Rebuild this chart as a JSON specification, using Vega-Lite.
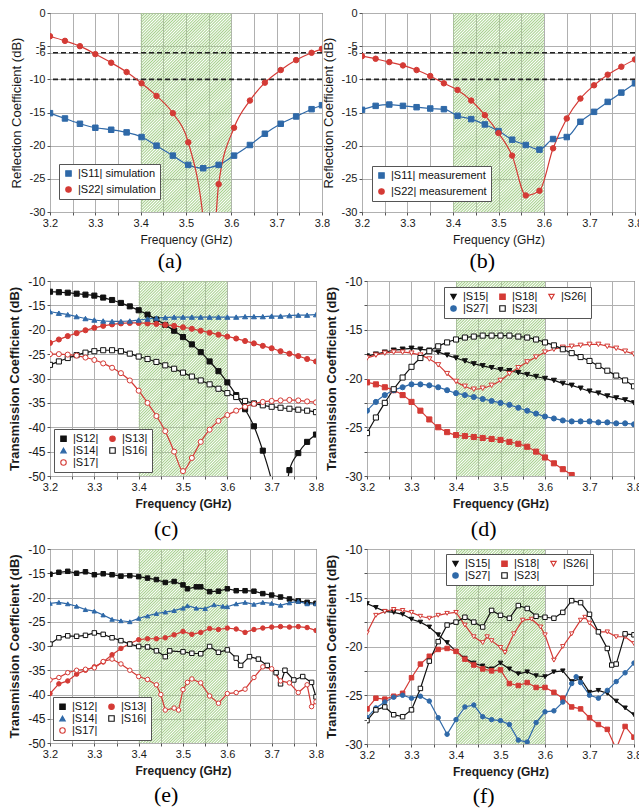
{
"$schema":"https://vega.github.io/schema/vega-lite/v6.json",
"background":"white",
"padding":{"left":8,"top":6,"right":0,"bottom":0},
"spacing":1,
"resolve":{"scale":{"color":"independent","shape":"independent","fill":"independent","stroke":"independent"}},
"config":{
 "view":{"stroke":"#3a3a3a","strokeWidth":1},
 "axis":{"labelFont":"Liberation Sans","titleFont":"Liberation Sans","labelFontSize":11,"titleFontSize":12,"titleFontWeight":"normal","labelColor":"#1a1a1a","titleColor":"#1a1a1a","domain":false,"grid":true,"gridColor":"#b0b0b0","gridWidth":1,"gridOpacity":1,"ticks":true,"tickColor":"#555","tickSize":3,"labelPadding":2,"titlePadding":6,"labelOverlap":false,"labelFlush":false},
 "legend":{"labelFont":"Liberation Sans","labelFontSize":11,"labelColor":"#111","strokeColor":"#555","fillColor":"white","padding":4,"rowPadding":0,"columnPadding":8,"symbolStrokeWidth":1.1,"symbolSize":30,"zindex":2},
 "title":{"font":"Liberation Serif","fontSize":22,"fontWeight":"normal","color":"#000"},
 "rect":{"fill":{"gradient":"linear","x1":0,"y1":0,"x2":0.545,"y2":1.206,"stops":[
{"offset":0,"color":"rgba(166,208,140,0)"},{"offset":0.005,"color":"#a6d08c"},{"offset":0.01,"color":"rgba(166,208,140,0)"},{"offset":0.015,"color":"#a6d08c"},{"offset":0.02,"color":"rgba(166,208,140,0)"},{"offset":0.025,"color":"#a6d08c"},{"offset":0.03,"color":"rgba(166,208,140,0)"},{"offset":0.035,"color":"#a6d08c"},{"offset":0.04,"color":"rgba(166,208,140,0)"},{"offset":0.045,"color":"#a6d08c"},
{"offset":0.05,"color":"rgba(166,208,140,0)"},{"offset":0.055,"color":"#a6d08c"},{"offset":0.06,"color":"rgba(166,208,140,0)"},{"offset":0.065,"color":"#a6d08c"},{"offset":0.07,"color":"rgba(166,208,140,0)"},{"offset":0.075,"color":"#a6d08c"},{"offset":0.08,"color":"rgba(166,208,140,0)"},{"offset":0.085,"color":"#a6d08c"},{"offset":0.09,"color":"rgba(166,208,140,0)"},{"offset":0.095,"color":"#a6d08c"},
{"offset":0.1,"color":"rgba(166,208,140,0)"},{"offset":0.105,"color":"#a6d08c"},{"offset":0.11,"color":"rgba(166,208,140,0)"},{"offset":0.115,"color":"#a6d08c"},{"offset":0.12,"color":"rgba(166,208,140,0)"},{"offset":0.125,"color":"#a6d08c"},{"offset":0.13,"color":"rgba(166,208,140,0)"},{"offset":0.135,"color":"#a6d08c"},{"offset":0.14,"color":"rgba(166,208,140,0)"},{"offset":0.145,"color":"#a6d08c"},
{"offset":0.15,"color":"rgba(166,208,140,0)"},{"offset":0.155,"color":"#a6d08c"},{"offset":0.16,"color":"rgba(166,208,140,0)"},{"offset":0.165,"color":"#a6d08c"},{"offset":0.17,"color":"rgba(166,208,140,0)"},{"offset":0.175,"color":"#a6d08c"},{"offset":0.18,"color":"rgba(166,208,140,0)"},{"offset":0.185,"color":"#a6d08c"},{"offset":0.19,"color":"rgba(166,208,140,0)"},{"offset":0.195,"color":"#a6d08c"},
{"offset":0.2,"color":"rgba(166,208,140,0)"},{"offset":0.205,"color":"#a6d08c"},{"offset":0.21,"color":"rgba(166,208,140,0)"},{"offset":0.215,"color":"#a6d08c"},{"offset":0.22,"color":"rgba(166,208,140,0)"},{"offset":0.225,"color":"#a6d08c"},{"offset":0.23,"color":"rgba(166,208,140,0)"},{"offset":0.235,"color":"#a6d08c"},{"offset":0.24,"color":"rgba(166,208,140,0)"},{"offset":0.245,"color":"#a6d08c"},
{"offset":0.25,"color":"rgba(166,208,140,0)"},{"offset":0.255,"color":"#a6d08c"},{"offset":0.26,"color":"rgba(166,208,140,0)"},{"offset":0.265,"color":"#a6d08c"},{"offset":0.27,"color":"rgba(166,208,140,0)"},{"offset":0.275,"color":"#a6d08c"},{"offset":0.28,"color":"rgba(166,208,140,0)"},{"offset":0.285,"color":"#a6d08c"},{"offset":0.29,"color":"rgba(166,208,140,0)"},{"offset":0.295,"color":"#a6d08c"},
{"offset":0.3,"color":"rgba(166,208,140,0)"},{"offset":0.305,"color":"#a6d08c"},{"offset":0.31,"color":"rgba(166,208,140,0)"},{"offset":0.315,"color":"#a6d08c"},{"offset":0.32,"color":"rgba(166,208,140,0)"},{"offset":0.325,"color":"#a6d08c"},{"offset":0.33,"color":"rgba(166,208,140,0)"},{"offset":0.335,"color":"#a6d08c"},{"offset":0.34,"color":"rgba(166,208,140,0)"},{"offset":0.345,"color":"#a6d08c"},
{"offset":0.35,"color":"rgba(166,208,140,0)"},{"offset":0.355,"color":"#a6d08c"},{"offset":0.36,"color":"rgba(166,208,140,0)"},{"offset":0.365,"color":"#a6d08c"},{"offset":0.37,"color":"rgba(166,208,140,0)"},{"offset":0.375,"color":"#a6d08c"},{"offset":0.38,"color":"rgba(166,208,140,0)"},{"offset":0.385,"color":"#a6d08c"},{"offset":0.39,"color":"rgba(166,208,140,0)"},{"offset":0.395,"color":"#a6d08c"},
{"offset":0.4,"color":"rgba(166,208,140,0)"},{"offset":0.405,"color":"#a6d08c"},{"offset":0.41,"color":"rgba(166,208,140,0)"},{"offset":0.415,"color":"#a6d08c"},{"offset":0.42,"color":"rgba(166,208,140,0)"},{"offset":0.425,"color":"#a6d08c"},{"offset":0.43,"color":"rgba(166,208,140,0)"},{"offset":0.435,"color":"#a6d08c"},{"offset":0.44,"color":"rgba(166,208,140,0)"},{"offset":0.445,"color":"#a6d08c"},
{"offset":0.45,"color":"rgba(166,208,140,0)"},{"offset":0.455,"color":"#a6d08c"},{"offset":0.46,"color":"rgba(166,208,140,0)"},{"offset":0.465,"color":"#a6d08c"},{"offset":0.47,"color":"rgba(166,208,140,0)"},{"offset":0.475,"color":"#a6d08c"},{"offset":0.48,"color":"rgba(166,208,140,0)"},{"offset":0.485,"color":"#a6d08c"},{"offset":0.49,"color":"rgba(166,208,140,0)"},{"offset":0.495,"color":"#a6d08c"},
{"offset":0.5,"color":"rgba(166,208,140,0)"},{"offset":0.505,"color":"#a6d08c"},{"offset":0.51,"color":"rgba(166,208,140,0)"},{"offset":0.515,"color":"#a6d08c"},{"offset":0.52,"color":"rgba(166,208,140,0)"},{"offset":0.525,"color":"#a6d08c"},{"offset":0.53,"color":"rgba(166,208,140,0)"},{"offset":0.535,"color":"#a6d08c"},{"offset":0.54,"color":"rgba(166,208,140,0)"},{"offset":0.545,"color":"#a6d08c"},
{"offset":0.55,"color":"rgba(166,208,140,0)"},{"offset":0.555,"color":"#a6d08c"},{"offset":0.56,"color":"rgba(166,208,140,0)"},{"offset":0.565,"color":"#a6d08c"},{"offset":0.57,"color":"rgba(166,208,140,0)"},{"offset":0.575,"color":"#a6d08c"},{"offset":0.58,"color":"rgba(166,208,140,0)"},{"offset":0.585,"color":"#a6d08c"},{"offset":0.59,"color":"rgba(166,208,140,0)"},{"offset":0.595,"color":"#a6d08c"},
{"offset":0.6,"color":"rgba(166,208,140,0)"},{"offset":0.605,"color":"#a6d08c"},{"offset":0.61,"color":"rgba(166,208,140,0)"},{"offset":0.615,"color":"#a6d08c"},{"offset":0.62,"color":"rgba(166,208,140,0)"},{"offset":0.625,"color":"#a6d08c"},{"offset":0.63,"color":"rgba(166,208,140,0)"},{"offset":0.635,"color":"#a6d08c"},{"offset":0.64,"color":"rgba(166,208,140,0)"},{"offset":0.645,"color":"#a6d08c"},
{"offset":0.65,"color":"rgba(166,208,140,0)"},{"offset":0.655,"color":"#a6d08c"},{"offset":0.66,"color":"rgba(166,208,140,0)"},{"offset":0.665,"color":"#a6d08c"},{"offset":0.67,"color":"rgba(166,208,140,0)"},{"offset":0.675,"color":"#a6d08c"},{"offset":0.68,"color":"rgba(166,208,140,0)"},{"offset":0.685,"color":"#a6d08c"},{"offset":0.69,"color":"rgba(166,208,140,0)"},{"offset":0.695,"color":"#a6d08c"},
{"offset":0.7,"color":"rgba(166,208,140,0)"},{"offset":0.705,"color":"#a6d08c"},{"offset":0.71,"color":"rgba(166,208,140,0)"},{"offset":0.715,"color":"#a6d08c"},{"offset":0.72,"color":"rgba(166,208,140,0)"},{"offset":0.725,"color":"#a6d08c"},{"offset":0.73,"color":"rgba(166,208,140,0)"},{"offset":0.735,"color":"#a6d08c"},{"offset":0.74,"color":"rgba(166,208,140,0)"},{"offset":0.745,"color":"#a6d08c"},
{"offset":0.75,"color":"rgba(166,208,140,0)"},{"offset":0.755,"color":"#a6d08c"},{"offset":0.76,"color":"rgba(166,208,140,0)"},{"offset":0.765,"color":"#a6d08c"},{"offset":0.77,"color":"rgba(166,208,140,0)"},{"offset":0.775,"color":"#a6d08c"},{"offset":0.78,"color":"rgba(166,208,140,0)"},{"offset":0.785,"color":"#a6d08c"},{"offset":0.79,"color":"rgba(166,208,140,0)"},{"offset":0.795,"color":"#a6d08c"},
{"offset":0.8,"color":"rgba(166,208,140,0)"},{"offset":0.805,"color":"#a6d08c"},{"offset":0.81,"color":"rgba(166,208,140,0)"},{"offset":0.815,"color":"#a6d08c"},{"offset":0.82,"color":"rgba(166,208,140,0)"},{"offset":0.825,"color":"#a6d08c"},{"offset":0.83,"color":"rgba(166,208,140,0)"},{"offset":0.835,"color":"#a6d08c"},{"offset":0.84,"color":"rgba(166,208,140,0)"},{"offset":0.845,"color":"#a6d08c"},
{"offset":0.85,"color":"rgba(166,208,140,0)"},{"offset":0.855,"color":"#a6d08c"},{"offset":0.86,"color":"rgba(166,208,140,0)"},{"offset":0.865,"color":"#a6d08c"},{"offset":0.87,"color":"rgba(166,208,140,0)"},{"offset":0.875,"color":"#a6d08c"},{"offset":0.88,"color":"rgba(166,208,140,0)"},{"offset":0.885,"color":"#a6d08c"},{"offset":0.89,"color":"rgba(166,208,140,0)"},{"offset":0.895,"color":"#a6d08c"},
{"offset":0.9,"color":"rgba(166,208,140,0)"},{"offset":0.905,"color":"#a6d08c"},{"offset":0.91,"color":"rgba(166,208,140,0)"},{"offset":0.915,"color":"#a6d08c"},{"offset":0.92,"color":"rgba(166,208,140,0)"},{"offset":0.925,"color":"#a6d08c"},{"offset":0.93,"color":"rgba(166,208,140,0)"},{"offset":0.935,"color":"#a6d08c"},{"offset":0.94,"color":"rgba(166,208,140,0)"},{"offset":0.945,"color":"#a6d08c"},
{"offset":0.95,"color":"rgba(166,208,140,0)"},{"offset":0.955,"color":"#a6d08c"},{"offset":0.96,"color":"rgba(166,208,140,0)"},{"offset":0.965,"color":"#a6d08c"},{"offset":0.97,"color":"rgba(166,208,140,0)"},{"offset":0.975,"color":"#a6d08c"},{"offset":0.98,"color":"rgba(166,208,140,0)"},{"offset":0.985,"color":"#a6d08c"},{"offset":0.99,"color":"rgba(166,208,140,0)"},{"offset":0.995,"color":"#a6d08c"},
{"offset":1,"color":"rgba(166,208,140,0)"}]}}
},
"datasets":{
"a":[
{"f":3.2,"v":-15.1,"s":"|S11| simulation"},{"f":3.233,"v":-15.9,"s":"|S11| simulation"},{"f":3.266,"v":-16.7,"s":"|S11| simulation"},{"f":3.3,"v":-17.3,"s":"|S11| simulation"},{"f":3.335,"v":-17.6,"s":"|S11| simulation"},{"f":3.369,"v":-18.0,"s":"|S11| simulation"},{"f":3.402,"v":-18.7,"s":"|S11| simulation"},{"f":3.435,"v":-20.0,"s":"|S11| simulation"},{"f":3.471,"v":-21.5,"s":"|S11| simulation"},{"f":3.505,"v":-22.9,"s":"|S11| simulation"},{"f":3.538,"v":-23.4,"s":"|S11| simulation"},{"f":3.572,"v":-22.9,"s":"|S11| simulation"},{"f":3.606,"v":-21.5,"s":"|S11| simulation"},{"f":3.641,"v":-19.9,"s":"|S11| simulation"},{"f":3.674,"v":-18.2,"s":"|S11| simulation"},{"f":3.709,"v":-16.7,"s":"|S11| simulation"},{"f":3.743,"v":-15.6,"s":"|S11| simulation"},{"f":3.777,"v":-14.5,"s":"|S11| simulation"},{"f":3.8,"v":-13.9,"s":"|S11| simulation"},
{"f":3.2,"v":-3.5,"s":"|S22| simulation"},{"f":3.233,"v":-4.2,"s":"|S22| simulation"},{"f":3.266,"v":-5.0,"s":"|S22| simulation"},{"f":3.3,"v":-6.2,"s":"|S22| simulation"},{"f":3.335,"v":-7.5,"s":"|S22| simulation"},{"f":3.369,"v":-8.9,"s":"|S22| simulation"},{"f":3.402,"v":-10.6,"s":"|S22| simulation"},{"f":3.435,"v":-12.5,"s":"|S22| simulation"},{"f":3.471,"v":-15.1,"s":"|S22| simulation"},{"f":3.505,"v":-19.5,"s":"|S22| simulation"},{"f":3.538,"v":-31,"s":"|S22| simulation"},{"f":3.553,"v":-42,"s":"|S22| simulation"},{"f":3.572,"v":-25.8,"s":"|S22| simulation"},{"f":3.606,"v":-17.3,"s":"|S22| simulation"},{"f":3.641,"v":-13.2,"s":"|S22| simulation"},{"f":3.674,"v":-10.5,"s":"|S22| simulation"},{"f":3.709,"v":-8.6,"s":"|S22| simulation"},{"f":3.743,"v":-7.1,"s":"|S22| simulation"},{"f":3.777,"v":-6.0,"s":"|S22| simulation"},{"f":3.8,"v":-5.4,"s":"|S22| simulation"}
],
"b":[
{"f":3.2,"v":-14.6,"s":"|S11| measurement"},{"f":3.23,"v":-14.0,"s":"|S11| measurement"},{"f":3.26,"v":-13.8,"s":"|S11| measurement"},{"f":3.29,"v":-14.0,"s":"|S11| measurement"},{"f":3.32,"v":-14.2,"s":"|S11| measurement"},{"f":3.35,"v":-14.4,"s":"|S11| measurement"},{"f":3.38,"v":-14.5,"s":"|S11| measurement"},{"f":3.41,"v":-15.5,"s":"|S11| measurement"},{"f":3.44,"v":-16.0,"s":"|S11| measurement"},{"f":3.47,"v":-16.8,"s":"|S11| measurement"},{"f":3.5,"v":-17.8,"s":"|S11| measurement"},{"f":3.53,"v":-19.1,"s":"|S11| measurement"},{"f":3.56,"v":-19.9,"s":"|S11| measurement"},{"f":3.59,"v":-20.6,"s":"|S11| measurement"},{"f":3.62,"v":-19.0,"s":"|S11| measurement"},{"f":3.65,"v":-18.7,"s":"|S11| measurement"},{"f":3.68,"v":-16.4,"s":"|S11| measurement"},{"f":3.71,"v":-14.9,"s":"|S11| measurement"},{"f":3.74,"v":-13.4,"s":"|S11| measurement"},{"f":3.77,"v":-12.0,"s":"|S11| measurement"},{"f":3.8,"v":-10.6,"s":"|S11| measurement"},
{"f":3.2,"v":-6.5,"s":"|S22| measurement"},{"f":3.23,"v":-6.9,"s":"|S22| measurement"},{"f":3.26,"v":-7.4,"s":"|S22| measurement"},{"f":3.29,"v":-7.9,"s":"|S22| measurement"},{"f":3.32,"v":-8.6,"s":"|S22| measurement"},{"f":3.35,"v":-9.5,"s":"|S22| measurement"},{"f":3.38,"v":-10.6,"s":"|S22| measurement"},{"f":3.41,"v":-11.6,"s":"|S22| measurement"},{"f":3.44,"v":-13.2,"s":"|S22| measurement"},{"f":3.47,"v":-15.4,"s":"|S22| measurement"},{"f":3.5,"v":-18.1,"s":"|S22| measurement"},{"f":3.53,"v":-21.5,"s":"|S22| measurement"},{"f":3.56,"v":-27.5,"s":"|S22| measurement"},{"f":3.59,"v":-26.8,"s":"|S22| measurement"},{"f":3.62,"v":-20.4,"s":"|S22| measurement"},{"f":3.65,"v":-15.9,"s":"|S22| measurement"},{"f":3.68,"v":-12.9,"s":"|S22| measurement"},{"f":3.71,"v":-10.9,"s":"|S22| measurement"},{"f":3.74,"v":-9.3,"s":"|S22| measurement"},{"f":3.77,"v":-8.1,"s":"|S22| measurement"},{"f":3.8,"v":-7.0,"s":"|S22| measurement"}
],
"c":[
{"f":3.2,"v":-12.2,"s":"|S12|"},{"f":3.22,"v":-12.3,"s":"|S12|"},{"f":3.24,"v":-12.4,"s":"|S12|"},{"f":3.26,"v":-12.6,"s":"|S12|"},{"f":3.28,"v":-12.8,"s":"|S12|"},{"f":3.3,"v":-13.0,"s":"|S12|"},{"f":3.32,"v":-13.4,"s":"|S12|"},{"f":3.34,"v":-13.9,"s":"|S12|"},{"f":3.36,"v":-14.5,"s":"|S12|"},{"f":3.38,"v":-15.2,"s":"|S12|"},{"f":3.4,"v":-16.0,"s":"|S12|"},{"f":3.42,"v":-16.9,"s":"|S12|"},{"f":3.44,"v":-17.9,"s":"|S12|"},{"f":3.46,"v":-19.0,"s":"|S12|"},{"f":3.48,"v":-20.2,"s":"|S12|"},{"f":3.5,"v":-21.5,"s":"|S12|"},{"f":3.52,"v":-23.0,"s":"|S12|"},{"f":3.54,"v":-24.6,"s":"|S12|"},{"f":3.56,"v":-26.5,"s":"|S12|"},{"f":3.58,"v":-28.5,"s":"|S12|"},{"f":3.6,"v":-30.8,"s":"|S12|"},{"f":3.62,"v":-33.4,"s":"|S12|"},{"f":3.64,"v":-36.3,"s":"|S12|"},{"f":3.66,"v":-39.8,"s":"|S12|"},{"f":3.68,"v":-44.8,"s":"|S12|"},{"f":3.7,"v":-51,"s":"|S12|"},{"f":3.72,"v":-60,"s":"|S12|"},{"f":3.74,"v":-48.8,"s":"|S12|"},{"f":3.76,"v":-45.3,"s":"|S12|"},{"f":3.78,"v":-43.0,"s":"|S12|"},{"f":3.8,"v":-41.5,"s":"|S12|"},
{"f":3.2,"v":-22.7,"s":"|S13|"},{"f":3.22,"v":-22.0,"s":"|S13|"},{"f":3.24,"v":-21.3,"s":"|S13|"},{"f":3.26,"v":-20.7,"s":"|S13|"},{"f":3.28,"v":-20.1,"s":"|S13|"},{"f":3.3,"v":-19.6,"s":"|S13|"},{"f":3.32,"v":-19.2,"s":"|S13|"},{"f":3.34,"v":-18.9,"s":"|S13|"},{"f":3.36,"v":-18.7,"s":"|S13|"},{"f":3.38,"v":-18.6,"s":"|S13|"},{"f":3.4,"v":-18.6,"s":"|S13|"},{"f":3.42,"v":-18.7,"s":"|S13|"},{"f":3.44,"v":-18.8,"s":"|S13|"},{"f":3.46,"v":-19.0,"s":"|S13|"},{"f":3.48,"v":-19.2,"s":"|S13|"},{"f":3.5,"v":-19.5,"s":"|S13|"},{"f":3.52,"v":-19.8,"s":"|S13|"},{"f":3.54,"v":-20.2,"s":"|S13|"},{"f":3.56,"v":-20.6,"s":"|S13|"},{"f":3.58,"v":-21.0,"s":"|S13|"},{"f":3.6,"v":-21.4,"s":"|S13|"},{"f":3.62,"v":-21.8,"s":"|S13|"},{"f":3.64,"v":-22.3,"s":"|S13|"},{"f":3.66,"v":-22.8,"s":"|S13|"},{"f":3.68,"v":-23.3,"s":"|S13|"},{"f":3.7,"v":-23.8,"s":"|S13|"},{"f":3.72,"v":-24.4,"s":"|S13|"},{"f":3.74,"v":-24.9,"s":"|S13|"},{"f":3.76,"v":-25.4,"s":"|S13|"},{"f":3.78,"v":-26.0,"s":"|S13|"},{"f":3.8,"v":-26.5,"s":"|S13|"},
{"f":3.2,"v":-16.3,"s":"|S14|"},{"f":3.22,"v":-16.6,"s":"|S14|"},{"f":3.24,"v":-16.9,"s":"|S14|"},{"f":3.26,"v":-17.3,"s":"|S14|"},{"f":3.28,"v":-17.7,"s":"|S14|"},{"f":3.3,"v":-18.0,"s":"|S14|"},{"f":3.32,"v":-18.2,"s":"|S14|"},{"f":3.34,"v":-18.3,"s":"|S14|"},{"f":3.36,"v":-18.3,"s":"|S14|"},{"f":3.38,"v":-18.2,"s":"|S14|"},{"f":3.4,"v":-18.0,"s":"|S14|"},{"f":3.42,"v":-17.8,"s":"|S14|"},{"f":3.44,"v":-17.6,"s":"|S14|"},{"f":3.46,"v":-17.5,"s":"|S14|"},{"f":3.48,"v":-17.4,"s":"|S14|"},{"f":3.5,"v":-17.4,"s":"|S14|"},{"f":3.52,"v":-17.4,"s":"|S14|"},{"f":3.54,"v":-17.4,"s":"|S14|"},{"f":3.56,"v":-17.4,"s":"|S14|"},{"f":3.58,"v":-17.4,"s":"|S14|"},{"f":3.6,"v":-17.4,"s":"|S14|"},{"f":3.62,"v":-17.4,"s":"|S14|"},{"f":3.64,"v":-17.3,"s":"|S14|"},{"f":3.66,"v":-17.3,"s":"|S14|"},{"f":3.68,"v":-17.3,"s":"|S14|"},{"f":3.7,"v":-17.2,"s":"|S14|"},{"f":3.72,"v":-17.2,"s":"|S14|"},{"f":3.74,"v":-17.1,"s":"|S14|"},{"f":3.76,"v":-17.0,"s":"|S14|"},{"f":3.78,"v":-17.0,"s":"|S14|"},{"f":3.8,"v":-16.9,"s":"|S14|"},
{"f":3.2,"v":-27.2,"s":"|S16|"},{"f":3.22,"v":-26.5,"s":"|S16|"},{"f":3.24,"v":-25.8,"s":"|S16|"},{"f":3.26,"v":-25.2,"s":"|S16|"},{"f":3.28,"v":-24.7,"s":"|S16|"},{"f":3.3,"v":-24.4,"s":"|S16|"},{"f":3.32,"v":-24.2,"s":"|S16|"},{"f":3.34,"v":-24.2,"s":"|S16|"},{"f":3.36,"v":-24.4,"s":"|S16|"},{"f":3.38,"v":-24.9,"s":"|S16|"},{"f":3.4,"v":-25.5,"s":"|S16|"},{"f":3.42,"v":-26.0,"s":"|S16|"},{"f":3.44,"v":-26.6,"s":"|S16|"},{"f":3.46,"v":-27.3,"s":"|S16|"},{"f":3.48,"v":-28.0,"s":"|S16|"},{"f":3.5,"v":-28.8,"s":"|S16|"},{"f":3.52,"v":-29.6,"s":"|S16|"},{"f":3.54,"v":-30.4,"s":"|S16|"},{"f":3.56,"v":-31.2,"s":"|S16|"},{"f":3.58,"v":-32.1,"s":"|S16|"},{"f":3.6,"v":-33.0,"s":"|S16|"},{"f":3.62,"v":-33.8,"s":"|S16|"},{"f":3.64,"v":-34.6,"s":"|S16|"},{"f":3.66,"v":-35.1,"s":"|S16|"},{"f":3.68,"v":-35.5,"s":"|S16|"},{"f":3.7,"v":-35.8,"s":"|S16|"},{"f":3.72,"v":-36.0,"s":"|S16|"},{"f":3.74,"v":-36.2,"s":"|S16|"},{"f":3.76,"v":-36.4,"s":"|S16|"},{"f":3.78,"v":-36.6,"s":"|S16|"},{"f":3.8,"v":-36.9,"s":"|S16|"},
{"f":3.2,"v":-25.0,"s":"|S17|"},{"f":3.22,"v":-25.0,"s":"|S17|"},{"f":3.24,"v":-25.1,"s":"|S17|"},{"f":3.26,"v":-25.3,"s":"|S17|"},{"f":3.28,"v":-25.7,"s":"|S17|"},{"f":3.3,"v":-26.2,"s":"|S17|"},{"f":3.32,"v":-26.9,"s":"|S17|"},{"f":3.34,"v":-27.8,"s":"|S17|"},{"f":3.36,"v":-28.9,"s":"|S17|"},{"f":3.38,"v":-30.4,"s":"|S17|"},{"f":3.4,"v":-32.5,"s":"|S17|"},{"f":3.42,"v":-35.0,"s":"|S17|"},{"f":3.44,"v":-37.7,"s":"|S17|"},{"f":3.46,"v":-40.8,"s":"|S17|"},{"f":3.48,"v":-45.0,"s":"|S17|"},{"f":3.5,"v":-49.0,"s":"|S17|"},{"f":3.52,"v":-46.3,"s":"|S17|"},{"f":3.54,"v":-43.0,"s":"|S17|"},{"f":3.56,"v":-40.5,"s":"|S17|"},{"f":3.58,"v":-38.7,"s":"|S17|"},{"f":3.6,"v":-37.5,"s":"|S17|"},{"f":3.62,"v":-36.6,"s":"|S17|"},{"f":3.64,"v":-35.8,"s":"|S17|"},{"f":3.66,"v":-35.2,"s":"|S17|"},{"f":3.68,"v":-34.8,"s":"|S17|"},{"f":3.7,"v":-34.6,"s":"|S17|"},{"f":3.72,"v":-34.5,"s":"|S17|"},{"f":3.74,"v":-34.4,"s":"|S17|"},{"f":3.76,"v":-34.5,"s":"|S17|"},{"f":3.78,"v":-34.7,"s":"|S17|"},{"f":3.8,"v":-34.9,"s":"|S17|"}
],
"d":[
{"f":3.2,"v":-17.7,"s":"|S15|"},{"f":3.22,"v":-17.5,"s":"|S15|"},{"f":3.24,"v":-17.3,"s":"|S15|"},{"f":3.26,"v":-17.1,"s":"|S15|"},{"f":3.28,"v":-17.0,"s":"|S15|"},{"f":3.3,"v":-16.9,"s":"|S15|"},{"f":3.32,"v":-17.0,"s":"|S15|"},{"f":3.34,"v":-17.1,"s":"|S15|"},{"f":3.36,"v":-17.3,"s":"|S15|"},{"f":3.38,"v":-17.6,"s":"|S15|"},{"f":3.4,"v":-17.9,"s":"|S15|"},{"f":3.42,"v":-18.2,"s":"|S15|"},{"f":3.44,"v":-18.5,"s":"|S15|"},{"f":3.46,"v":-18.7,"s":"|S15|"},{"f":3.48,"v":-18.9,"s":"|S15|"},{"f":3.5,"v":-19.1,"s":"|S15|"},{"f":3.52,"v":-19.2,"s":"|S15|"},{"f":3.54,"v":-19.4,"s":"|S15|"},{"f":3.56,"v":-19.6,"s":"|S15|"},{"f":3.58,"v":-19.8,"s":"|S15|"},{"f":3.6,"v":-20.0,"s":"|S15|"},{"f":3.62,"v":-20.2,"s":"|S15|"},{"f":3.64,"v":-20.5,"s":"|S15|"},{"f":3.66,"v":-20.7,"s":"|S15|"},{"f":3.68,"v":-21.0,"s":"|S15|"},{"f":3.7,"v":-21.3,"s":"|S15|"},{"f":3.72,"v":-21.5,"s":"|S15|"},{"f":3.74,"v":-21.8,"s":"|S15|"},{"f":3.76,"v":-22.0,"s":"|S15|"},{"f":3.78,"v":-22.2,"s":"|S15|"},{"f":3.8,"v":-22.5,"s":"|S15|"},
{"f":3.2,"v":-20.4,"s":"|S18|"},{"f":3.22,"v":-20.6,"s":"|S18|"},{"f":3.24,"v":-20.9,"s":"|S18|"},{"f":3.26,"v":-21.2,"s":"|S18|"},{"f":3.28,"v":-21.7,"s":"|S18|"},{"f":3.3,"v":-22.4,"s":"|S18|"},{"f":3.32,"v":-23.3,"s":"|S18|"},{"f":3.34,"v":-24.2,"s":"|S18|"},{"f":3.36,"v":-25.0,"s":"|S18|"},{"f":3.38,"v":-25.5,"s":"|S18|"},{"f":3.4,"v":-25.8,"s":"|S18|"},{"f":3.42,"v":-25.9,"s":"|S18|"},{"f":3.44,"v":-26.0,"s":"|S18|"},{"f":3.46,"v":-26.1,"s":"|S18|"},{"f":3.48,"v":-26.2,"s":"|S18|"},{"f":3.5,"v":-26.3,"s":"|S18|"},{"f":3.52,"v":-26.5,"s":"|S18|"},{"f":3.54,"v":-26.7,"s":"|S18|"},{"f":3.56,"v":-27.0,"s":"|S18|"},{"f":3.58,"v":-27.5,"s":"|S18|"},{"f":3.6,"v":-28.1,"s":"|S18|"},{"f":3.62,"v":-28.7,"s":"|S18|"},{"f":3.64,"v":-29.3,"s":"|S18|"},{"f":3.66,"v":-29.9,"s":"|S18|"},{"f":3.68,"v":-30.6,"s":"|S18|"},{"f":3.7,"v":-31.3,"s":"|S18|"},{"f":3.72,"v":-32.0,"s":"|S18|"},{"f":3.74,"v":-32.7,"s":"|S18|"},{"f":3.76,"v":-33.4,"s":"|S18|"},{"f":3.78,"v":-34.0,"s":"|S18|"},{"f":3.8,"v":-34.6,"s":"|S18|"},
{"f":3.2,"v":-17.9,"s":"|S26|"},{"f":3.22,"v":-17.6,"s":"|S26|"},{"f":3.24,"v":-17.4,"s":"|S26|"},{"f":3.26,"v":-17.3,"s":"|S26|"},{"f":3.28,"v":-17.3,"s":"|S26|"},{"f":3.3,"v":-17.4,"s":"|S26|"},{"f":3.32,"v":-17.6,"s":"|S26|"},{"f":3.34,"v":-18.0,"s":"|S26|"},{"f":3.36,"v":-18.6,"s":"|S26|"},{"f":3.38,"v":-19.5,"s":"|S26|"},{"f":3.4,"v":-20.3,"s":"|S26|"},{"f":3.42,"v":-20.8,"s":"|S26|"},{"f":3.44,"v":-21.1,"s":"|S26|"},{"f":3.46,"v":-21.0,"s":"|S26|"},{"f":3.48,"v":-20.7,"s":"|S26|"},{"f":3.5,"v":-20.2,"s":"|S26|"},{"f":3.52,"v":-19.5,"s":"|S26|"},{"f":3.54,"v":-18.9,"s":"|S26|"},{"f":3.56,"v":-18.3,"s":"|S26|"},{"f":3.58,"v":-17.8,"s":"|S26|"},{"f":3.6,"v":-17.3,"s":"|S26|"},{"f":3.62,"v":-17.0,"s":"|S26|"},{"f":3.64,"v":-16.8,"s":"|S26|"},{"f":3.66,"v":-16.7,"s":"|S26|"},{"f":3.68,"v":-16.6,"s":"|S26|"},{"f":3.7,"v":-16.5,"s":"|S26|"},{"f":3.72,"v":-16.5,"s":"|S26|"},{"f":3.74,"v":-16.7,"s":"|S26|"},{"f":3.76,"v":-16.9,"s":"|S26|"},{"f":3.78,"v":-17.2,"s":"|S26|"},{"f":3.8,"v":-17.5,"s":"|S26|"},
{"f":3.2,"v":-23.3,"s":"|S27|"},{"f":3.22,"v":-22.4,"s":"|S27|"},{"f":3.24,"v":-21.7,"s":"|S27|"},{"f":3.26,"v":-21.2,"s":"|S27|"},{"f":3.28,"v":-20.9,"s":"|S27|"},{"f":3.3,"v":-20.6,"s":"|S27|"},{"f":3.32,"v":-20.6,"s":"|S27|"},{"f":3.34,"v":-20.7,"s":"|S27|"},{"f":3.36,"v":-20.9,"s":"|S27|"},{"f":3.38,"v":-21.2,"s":"|S27|"},{"f":3.4,"v":-21.5,"s":"|S27|"},{"f":3.42,"v":-21.7,"s":"|S27|"},{"f":3.44,"v":-21.9,"s":"|S27|"},{"f":3.46,"v":-22.1,"s":"|S27|"},{"f":3.48,"v":-22.3,"s":"|S27|"},{"f":3.5,"v":-22.5,"s":"|S27|"},{"f":3.52,"v":-22.7,"s":"|S27|"},{"f":3.54,"v":-23.0,"s":"|S27|"},{"f":3.56,"v":-23.3,"s":"|S27|"},{"f":3.58,"v":-23.6,"s":"|S27|"},{"f":3.6,"v":-23.9,"s":"|S27|"},{"f":3.62,"v":-24.1,"s":"|S27|"},{"f":3.64,"v":-24.3,"s":"|S27|"},{"f":3.66,"v":-24.4,"s":"|S27|"},{"f":3.68,"v":-24.4,"s":"|S27|"},{"f":3.7,"v":-24.4,"s":"|S27|"},{"f":3.72,"v":-24.5,"s":"|S27|"},{"f":3.74,"v":-24.5,"s":"|S27|"},{"f":3.76,"v":-24.6,"s":"|S27|"},{"f":3.78,"v":-24.6,"s":"|S27|"},{"f":3.8,"v":-24.7,"s":"|S27|"},
{"f":3.2,"v":-25.6,"s":"|S23|"},{"f":3.22,"v":-24.0,"s":"|S23|"},{"f":3.24,"v":-22.5,"s":"|S23|"},{"f":3.26,"v":-21.1,"s":"|S23|"},{"f":3.28,"v":-19.9,"s":"|S23|"},{"f":3.3,"v":-18.8,"s":"|S23|"},{"f":3.32,"v":-17.9,"s":"|S23|"},{"f":3.34,"v":-17.2,"s":"|S23|"},{"f":3.36,"v":-16.7,"s":"|S23|"},{"f":3.38,"v":-16.3,"s":"|S23|"},{"f":3.4,"v":-16.0,"s":"|S23|"},{"f":3.42,"v":-15.8,"s":"|S23|"},{"f":3.44,"v":-15.7,"s":"|S23|"},{"f":3.46,"v":-15.6,"s":"|S23|"},{"f":3.48,"v":-15.6,"s":"|S23|"},{"f":3.5,"v":-15.6,"s":"|S23|"},{"f":3.52,"v":-15.6,"s":"|S23|"},{"f":3.54,"v":-15.7,"s":"|S23|"},{"f":3.56,"v":-15.8,"s":"|S23|"},{"f":3.58,"v":-16.0,"s":"|S23|"},{"f":3.6,"v":-16.3,"s":"|S23|"},{"f":3.62,"v":-16.6,"s":"|S23|"},{"f":3.64,"v":-17.0,"s":"|S23|"},{"f":3.66,"v":-17.4,"s":"|S23|"},{"f":3.68,"v":-17.8,"s":"|S23|"},{"f":3.7,"v":-18.2,"s":"|S23|"},{"f":3.72,"v":-18.7,"s":"|S23|"},{"f":3.74,"v":-19.2,"s":"|S23|"},{"f":3.76,"v":-19.7,"s":"|S23|"},{"f":3.78,"v":-20.2,"s":"|S23|"},{"f":3.8,"v":-20.8,"s":"|S23|"}
],
"e":[
{"f":3.2,"v":-15.2,"s":"|S12|"},{"f":3.22,"v":-14.8,"s":"|S12|"},{"f":3.24,"v":-14.6,"s":"|S12|"},{"f":3.26,"v":-15.0,"s":"|S12|"},{"f":3.28,"v":-14.7,"s":"|S12|"},{"f":3.3,"v":-15.3,"s":"|S12|"},{"f":3.32,"v":-15.1,"s":"|S12|"},{"f":3.34,"v":-15.3,"s":"|S12|"},{"f":3.36,"v":-15.6,"s":"|S12|"},{"f":3.38,"v":-15.5,"s":"|S12|"},{"f":3.4,"v":-15.7,"s":"|S12|"},{"f":3.42,"v":-16.0,"s":"|S12|"},{"f":3.44,"v":-16.3,"s":"|S12|"},{"f":3.46,"v":-16.9,"s":"|S12|"},{"f":3.48,"v":-16.7,"s":"|S12|"},{"f":3.5,"v":-17.4,"s":"|S12|"},{"f":3.51,"v":-18.2,"s":"|S12|"},{"f":3.53,"v":-17.8,"s":"|S12|"},{"f":3.54,"v":-17.8,"s":"|S12|"},{"f":3.56,"v":-18.8,"s":"|S12|"},{"f":3.58,"v":-18.7,"s":"|S12|"},{"f":3.6,"v":-18.2,"s":"|S12|"},{"f":3.62,"v":-18.6,"s":"|S12|"},{"f":3.64,"v":-18.6,"s":"|S12|"},{"f":3.66,"v":-18.7,"s":"|S12|"},{"f":3.68,"v":-19.2,"s":"|S12|"},{"f":3.7,"v":-19.5,"s":"|S12|"},{"f":3.72,"v":-19.9,"s":"|S12|"},{"f":3.74,"v":-20.3,"s":"|S12|"},{"f":3.76,"v":-20.7,"s":"|S12|"},{"f":3.78,"v":-21.0,"s":"|S12|"},{"f":3.8,"v":-21.2,"s":"|S12|"},
{"f":3.2,"v":-39.8,"s":"|S13|"},{"f":3.22,"v":-37.8,"s":"|S13|"},{"f":3.24,"v":-37.2,"s":"|S13|"},{"f":3.26,"v":-35.8,"s":"|S13|"},{"f":3.28,"v":-35.0,"s":"|S13|"},{"f":3.3,"v":-34.3,"s":"|S13|"},{"f":3.32,"v":-33.3,"s":"|S13|"},{"f":3.34,"v":-31.8,"s":"|S13|"},{"f":3.36,"v":-30.5,"s":"|S13|"},{"f":3.38,"v":-29.5,"s":"|S13|"},{"f":3.4,"v":-28.7,"s":"|S13|"},{"f":3.42,"v":-28.5,"s":"|S13|"},{"f":3.44,"v":-28.5,"s":"|S13|"},{"f":3.46,"v":-28.3,"s":"|S13|"},{"f":3.48,"v":-27.7,"s":"|S13|"},{"f":3.5,"v":-27.0,"s":"|S13|"},{"f":3.52,"v":-27.6,"s":"|S13|"},{"f":3.54,"v":-27.2,"s":"|S13|"},{"f":3.56,"v":-26.4,"s":"|S13|"},{"f":3.58,"v":-26.6,"s":"|S13|"},{"f":3.6,"v":-26.3,"s":"|S13|"},{"f":3.62,"v":-26.5,"s":"|S13|"},{"f":3.64,"v":-27.2,"s":"|S13|"},{"f":3.66,"v":-26.6,"s":"|S13|"},{"f":3.68,"v":-26.3,"s":"|S13|"},{"f":3.7,"v":-26.1,"s":"|S13|"},{"f":3.72,"v":-26.0,"s":"|S13|"},{"f":3.74,"v":-26.1,"s":"|S13|"},{"f":3.76,"v":-26.0,"s":"|S13|"},{"f":3.78,"v":-26.2,"s":"|S13|"},{"f":3.8,"v":-26.8,"s":"|S13|"},
{"f":3.2,"v":-21.2,"s":"|S14|"},{"f":3.22,"v":-21.0,"s":"|S14|"},{"f":3.24,"v":-21.3,"s":"|S14|"},{"f":3.26,"v":-21.8,"s":"|S14|"},{"f":3.28,"v":-22.5,"s":"|S14|"},{"f":3.3,"v":-22.8,"s":"|S14|"},{"f":3.32,"v":-23.6,"s":"|S14|"},{"f":3.34,"v":-24.5,"s":"|S14|"},{"f":3.36,"v":-24.8,"s":"|S14|"},{"f":3.38,"v":-25.0,"s":"|S14|"},{"f":3.4,"v":-24.3,"s":"|S14|"},{"f":3.42,"v":-23.8,"s":"|S14|"},{"f":3.44,"v":-23.3,"s":"|S14|"},{"f":3.46,"v":-23.0,"s":"|S14|"},{"f":3.48,"v":-22.7,"s":"|S14|"},{"f":3.5,"v":-22.2,"s":"|S14|"},{"f":3.51,"v":-21.7,"s":"|S14|"},{"f":3.53,"v":-22.2,"s":"|S14|"},{"f":3.55,"v":-22.3,"s":"|S14|"},{"f":3.57,"v":-21.5,"s":"|S14|"},{"f":3.59,"v":-21.8,"s":"|S14|"},{"f":3.6,"v":-21.9,"s":"|S14|"},{"f":3.62,"v":-21.3,"s":"|S14|"},{"f":3.64,"v":-21.0,"s":"|S14|"},{"f":3.66,"v":-21.4,"s":"|S14|"},{"f":3.68,"v":-21.0,"s":"|S14|"},{"f":3.7,"v":-21.2,"s":"|S14|"},{"f":3.72,"v":-21.6,"s":"|S14|"},{"f":3.74,"v":-21.1,"s":"|S14|"},{"f":3.76,"v":-20.8,"s":"|S14|"},{"f":3.78,"v":-21.3,"s":"|S14|"},{"f":3.8,"v":-21.3,"s":"|S14|"},
{"f":3.2,"v":-29.6,"s":"|S16|"},{"f":3.22,"v":-28.3,"s":"|S16|"},{"f":3.24,"v":-27.9,"s":"|S16|"},{"f":3.26,"v":-28.0,"s":"|S16|"},{"f":3.28,"v":-27.8,"s":"|S16|"},{"f":3.3,"v":-27.3,"s":"|S16|"},{"f":3.32,"v":-27.6,"s":"|S16|"},{"f":3.34,"v":-28.3,"s":"|S16|"},{"f":3.36,"v":-28.9,"s":"|S16|"},{"f":3.38,"v":-29.6,"s":"|S16|"},{"f":3.4,"v":-30.1,"s":"|S16|"},{"f":3.42,"v":-30.2,"s":"|S16|"},{"f":3.44,"v":-31.0,"s":"|S16|"},{"f":3.46,"v":-32.2,"s":"|S16|"},{"f":3.47,"v":-31.0,"s":"|S16|"},{"f":3.5,"v":-31.2,"s":"|S16|"},{"f":3.52,"v":-31.5,"s":"|S16|"},{"f":3.54,"v":-31.6,"s":"|S16|"},{"f":3.56,"v":-30.1,"s":"|S16|"},{"f":3.58,"v":-31.3,"s":"|S16|"},{"f":3.6,"v":-30.8,"s":"|S16|"},{"f":3.62,"v":-32.5,"s":"|S16|"},{"f":3.63,"v":-34.0,"s":"|S16|"},{"f":3.65,"v":-32.2,"s":"|S16|"},{"f":3.67,"v":-32.7,"s":"|S16|"},{"f":3.69,"v":-34.0,"s":"|S16|"},{"f":3.71,"v":-35.5,"s":"|S16|"},{"f":3.72,"v":-37.8,"s":"|S16|"},{"f":3.73,"v":-35.0,"s":"|S16|"},{"f":3.75,"v":-37.0,"s":"|S16|"},{"f":3.77,"v":-36.3,"s":"|S16|"},{"f":3.79,"v":-37.5,"s":"|S16|"},{"f":3.8,"v":-40.5,"s":"|S16|"},
{"f":3.2,"v":-37.0,"s":"|S17|"},{"f":3.22,"v":-36.5,"s":"|S17|"},{"f":3.24,"v":-35.5,"s":"|S17|"},{"f":3.26,"v":-35.0,"s":"|S17|"},{"f":3.28,"v":-34.8,"s":"|S17|"},{"f":3.3,"v":-34.5,"s":"|S17|"},{"f":3.32,"v":-33.2,"s":"|S17|"},{"f":3.34,"v":-32.7,"s":"|S17|"},{"f":3.36,"v":-33.7,"s":"|S17|"},{"f":3.38,"v":-35.0,"s":"|S17|"},{"f":3.4,"v":-36.3,"s":"|S17|"},{"f":3.42,"v":-36.9,"s":"|S17|"},{"f":3.44,"v":-38.0,"s":"|S17|"},{"f":3.45,"v":-40.0,"s":"|S17|"},{"f":3.46,"v":-43.2,"s":"|S17|"},{"f":3.48,"v":-42.8,"s":"|S17|"},{"f":3.49,"v":-43.2,"s":"|S17|"},{"f":3.5,"v":-39.0,"s":"|S17|"},{"f":3.51,"v":-37.5,"s":"|S17|"},{"f":3.52,"v":-36.8,"s":"|S17|"},{"f":3.54,"v":-37.6,"s":"|S17|"},{"f":3.56,"v":-40.3,"s":"|S17|"},{"f":3.58,"v":-41.8,"s":"|S17|"},{"f":3.6,"v":-39.8,"s":"|S17|"},{"f":3.62,"v":-39.6,"s":"|S17|"},{"f":3.64,"v":-38.9,"s":"|S17|"},{"f":3.66,"v":-36.5,"s":"|S17|"},{"f":3.68,"v":-34.3,"s":"|S17|"},{"f":3.7,"v":-34.7,"s":"|S17|"},{"f":3.72,"v":-37.2,"s":"|S17|"},{"f":3.74,"v":-37.6,"s":"|S17|"},{"f":3.76,"v":-39.6,"s":"|S17|"},{"f":3.78,"v":-38.0,"s":"|S17|"},{"f":3.79,"v":-42.5,"s":"|S17|"},{"f":3.8,"v":-41.5,"s":"|S17|"}
],
"f":[
{"f":3.2,"v":-15.6,"s":"|S15|"},{"f":3.22,"v":-16.0,"s":"|S15|"},{"f":3.24,"v":-16.4,"s":"|S15|"},{"f":3.26,"v":-16.5,"s":"|S15|"},{"f":3.28,"v":-16.7,"s":"|S15|"},{"f":3.3,"v":-17.2,"s":"|S15|"},{"f":3.32,"v":-17.5,"s":"|S15|"},{"f":3.34,"v":-18.0,"s":"|S15|"},{"f":3.36,"v":-18.8,"s":"|S15|"},{"f":3.38,"v":-19.6,"s":"|S15|"},{"f":3.4,"v":-20.5,"s":"|S15|"},{"f":3.42,"v":-21.2,"s":"|S15|"},{"f":3.44,"v":-21.7,"s":"|S15|"},{"f":3.46,"v":-22.0,"s":"|S15|"},{"f":3.48,"v":-22.3,"s":"|S15|"},{"f":3.5,"v":-21.7,"s":"|S15|"},{"f":3.52,"v":-22.3,"s":"|S15|"},{"f":3.54,"v":-22.8,"s":"|S15|"},{"f":3.56,"v":-22.6,"s":"|S15|"},{"f":3.58,"v":-23.0,"s":"|S15|"},{"f":3.6,"v":-23.1,"s":"|S15|"},{"f":3.62,"v":-22.6,"s":"|S15|"},{"f":3.64,"v":-22.5,"s":"|S15|"},{"f":3.66,"v":-23.6,"s":"|S15|"},{"f":3.68,"v":-23.3,"s":"|S15|"},{"f":3.7,"v":-24.7,"s":"|S15|"},{"f":3.72,"v":-24.5,"s":"|S15|"},{"f":3.74,"v":-24.8,"s":"|S15|"},{"f":3.76,"v":-25.6,"s":"|S15|"},{"f":3.78,"v":-26.3,"s":"|S15|"},{"f":3.8,"v":-27.0,"s":"|S15|"},
{"f":3.2,"v":-26.4,"s":"|S18|"},{"f":3.22,"v":-25.3,"s":"|S18|"},{"f":3.24,"v":-25.4,"s":"|S18|"},{"f":3.26,"v":-25.1,"s":"|S18|"},{"f":3.28,"v":-24.8,"s":"|S18|"},{"f":3.3,"v":-23.2,"s":"|S18|"},{"f":3.32,"v":-21.8,"s":"|S18|"},{"f":3.34,"v":-21.0,"s":"|S18|"},{"f":3.36,"v":-20.3,"s":"|S18|"},{"f":3.38,"v":-20.2,"s":"|S18|"},{"f":3.4,"v":-20.5,"s":"|S18|"},{"f":3.42,"v":-21.3,"s":"|S18|"},{"f":3.44,"v":-21.9,"s":"|S18|"},{"f":3.46,"v":-22.3,"s":"|S18|"},{"f":3.48,"v":-22.5,"s":"|S18|"},{"f":3.5,"v":-22.4,"s":"|S18|"},{"f":3.52,"v":-23.8,"s":"|S18|"},{"f":3.54,"v":-24.0,"s":"|S18|"},{"f":3.56,"v":-23.7,"s":"|S18|"},{"f":3.58,"v":-24.2,"s":"|S18|"},{"f":3.6,"v":-24.2,"s":"|S18|"},{"f":3.62,"v":-24.7,"s":"|S18|"},{"f":3.64,"v":-25.3,"s":"|S18|"},{"f":3.66,"v":-26.2,"s":"|S18|"},{"f":3.68,"v":-26.4,"s":"|S18|"},{"f":3.7,"v":-27.3,"s":"|S18|"},{"f":3.72,"v":-28.0,"s":"|S18|"},{"f":3.74,"v":-28.5,"s":"|S18|"},{"f":3.76,"v":-30.5,"s":"|S18|"},{"f":3.78,"v":-28.2,"s":"|S18|"},{"f":3.8,"v":-29.3,"s":"|S18|"},
{"f":3.2,"v":-18.6,"s":"|S26|"},{"f":3.22,"v":-16.8,"s":"|S26|"},{"f":3.24,"v":-16.4,"s":"|S26|"},{"f":3.26,"v":-16.2,"s":"|S26|"},{"f":3.28,"v":-16.3,"s":"|S26|"},{"f":3.3,"v":-16.5,"s":"|S26|"},{"f":3.32,"v":-16.9,"s":"|S26|"},{"f":3.34,"v":-17.1,"s":"|S26|"},{"f":3.36,"v":-16.8,"s":"|S26|"},{"f":3.38,"v":-16.6,"s":"|S26|"},{"f":3.4,"v":-16.5,"s":"|S26|"},{"f":3.42,"v":-17.8,"s":"|S26|"},{"f":3.44,"v":-19.0,"s":"|S26|"},{"f":3.46,"v":-19.6,"s":"|S26|"},{"f":3.47,"v":-19.0,"s":"|S26|"},{"f":3.48,"v":-19.4,"s":"|S26|"},{"f":3.5,"v":-20.1,"s":"|S26|"},{"f":3.51,"v":-20.6,"s":"|S26|"},{"f":3.53,"v":-18.7,"s":"|S26|"},{"f":3.55,"v":-17.3,"s":"|S26|"},{"f":3.57,"v":-17.2,"s":"|S26|"},{"f":3.59,"v":-18.0,"s":"|S26|"},{"f":3.6,"v":-18.8,"s":"|S26|"},{"f":3.62,"v":-21.4,"s":"|S26|"},{"f":3.64,"v":-20.0,"s":"|S26|"},{"f":3.66,"v":-18.7,"s":"|S26|"},{"f":3.68,"v":-17.3,"s":"|S26|"},{"f":3.69,"v":-17.0,"s":"|S26|"},{"f":3.7,"v":-17.6,"s":"|S26|"},{"f":3.72,"v":-18.5,"s":"|S26|"},{"f":3.74,"v":-18.5,"s":"|S26|"},{"f":3.76,"v":-19.0,"s":"|S26|"},{"f":3.78,"v":-19.0,"s":"|S26|"},{"f":3.8,"v":-19.7,"s":"|S26|"},
{"f":3.2,"v":-27.3,"s":"|S27|"},{"f":3.22,"v":-26.3,"s":"|S27|"},{"f":3.24,"v":-25.7,"s":"|S27|"},{"f":3.26,"v":-25.2,"s":"|S27|"},{"f":3.28,"v":-25.0,"s":"|S27|"},{"f":3.3,"v":-25.3,"s":"|S27|"},{"f":3.32,"v":-25.1,"s":"|S27|"},{"f":3.34,"v":-25.6,"s":"|S27|"},{"f":3.36,"v":-27.3,"s":"|S27|"},{"f":3.38,"v":-29.0,"s":"|S27|"},{"f":3.4,"v":-27.5,"s":"|S27|"},{"f":3.42,"v":-26.2,"s":"|S27|"},{"f":3.44,"v":-26.0,"s":"|S27|"},{"f":3.46,"v":-27.2,"s":"|S27|"},{"f":3.48,"v":-27.5,"s":"|S27|"},{"f":3.5,"v":-27.6,"s":"|S27|"},{"f":3.52,"v":-28.0,"s":"|S27|"},{"f":3.54,"v":-29.6,"s":"|S27|"},{"f":3.56,"v":-29.8,"s":"|S27|"},{"f":3.58,"v":-27.8,"s":"|S27|"},{"f":3.6,"v":-26.7,"s":"|S27|"},{"f":3.62,"v":-26.6,"s":"|S27|"},{"f":3.64,"v":-25.7,"s":"|S27|"},{"f":3.66,"v":-23.8,"s":"|S27|"},{"f":3.67,"v":-23.1,"s":"|S27|"},{"f":3.68,"v":-23.7,"s":"|S27|"},{"f":3.7,"v":-25.0,"s":"|S27|"},{"f":3.72,"v":-25.3,"s":"|S27|"},{"f":3.74,"v":-24.5,"s":"|S27|"},{"f":3.76,"v":-23.6,"s":"|S27|"},{"f":3.78,"v":-22.7,"s":"|S27|"},{"f":3.8,"v":-21.7,"s":"|S27|"},
{"f":3.2,"v":-27.6,"s":"|S23|"},{"f":3.22,"v":-26.5,"s":"|S23|"},{"f":3.24,"v":-26.2,"s":"|S23|"},{"f":3.26,"v":-27.0,"s":"|S23|"},{"f":3.28,"v":-27.2,"s":"|S23|"},{"f":3.3,"v":-26.5,"s":"|S23|"},{"f":3.32,"v":-24.3,"s":"|S23|"},{"f":3.34,"v":-21.5,"s":"|S23|"},{"f":3.36,"v":-19.5,"s":"|S23|"},{"f":3.38,"v":-17.8,"s":"|S23|"},{"f":3.4,"v":-17.5,"s":"|S23|"},{"f":3.42,"v":-17.0,"s":"|S23|"},{"f":3.44,"v":-17.5,"s":"|S23|"},{"f":3.46,"v":-18.0,"s":"|S23|"},{"f":3.48,"v":-16.3,"s":"|S23|"},{"f":3.5,"v":-16.8,"s":"|S23|"},{"f":3.52,"v":-17.1,"s":"|S23|"},{"f":3.54,"v":-15.8,"s":"|S23|"},{"f":3.56,"v":-16.1,"s":"|S23|"},{"f":3.58,"v":-16.9,"s":"|S23|"},{"f":3.6,"v":-17.0,"s":"|S23|"},{"f":3.62,"v":-17.1,"s":"|S23|"},{"f":3.64,"v":-16.5,"s":"|S23|"},{"f":3.66,"v":-15.3,"s":"|S23|"},{"f":3.68,"v":-15.5,"s":"|S23|"},{"f":3.7,"v":-16.7,"s":"|S23|"},{"f":3.72,"v":-18.5,"s":"|S23|"},{"f":3.74,"v":-20.2,"s":"|S23|"},{"f":3.75,"v":-21.9,"s":"|S23|"},{"f":3.76,"v":-21.8,"s":"|S23|"},{"f":3.78,"v":-18.7,"s":"|S23|"},{"f":3.8,"v":-18.8,"s":"|S23|"}
]
},
"vconcat":[
{"hconcat":[
 {"width":272,"height":199,
  "title":{"text":"(a)","orient":"bottom","frame":"bounds","anchor":"middle","offset":6},
  "layer":[
   {"data":{"values":[{"f":3.4,"f2":3.6}]},"mark":{"type":"rect"},"encoding":{"x":{"field":"f","type":"quantitative","scale":{"domain":[3.2,3.8],"nice":false,"zero":false},"axis":{"title":"Frequency (GHz)","zindex":0,"grid":true,"ticks":true,"labelOverlap":false,"gridColor":"#b0b0b0","values":[3.2,3.25,3.3,3.35,3.4,3.45,3.5,3.55,3.6,3.65,3.7,3.75,3.8],"labelExpr":"round(datum.value*100) % 10 == 0 ? format(datum.value, '.1f') : ''"}},"x2":{"field":"f2"}}},
   {"data":{"values":[{"v":-6},{"v":-10}]},"mark":{"type":"rule","strokeDash":[5,3],"strokeWidth":1.6,"color":"#222"},"encoding":{"y":{"field":"v","type":"quantitative","scale":{"domain":[-30,0],"nice":false,"zero":false},"axis":{"title":"Reflection Coefficient (dB)","zindex":0,"titleFontSize":13,"grid":true,"ticks":true,"labelOverlap":false,"gridColor":"#b0b0b0","values":[0,-5,-6,-10,-15,-20,-25,-30],"labelExpr":"datum.value == 0 ? '0' : '-' + format(-datum.value, 'd')"}}}},
   {"data":{"name":"a"},"mark":{"type":"line","interpolate":"monotone","strokeWidth":1.2,"clip":true},
    "encoding":{
     "x":{"field":"f","type":"quantitative","scale":{"domain":[3.2,3.8],"nice":false,"zero":false},"axis":{"title":"Frequency (GHz)","zindex":0,"grid":true,"ticks":true,"labelOverlap":false,"gridColor":"#b0b0b0","values":[3.2,3.25,3.3,3.35,3.4,3.45,3.5,3.55,3.6,3.65,3.7,3.75,3.8],"labelExpr":"round(datum.value*100) % 10 == 0 ? format(datum.value, '.1f') : ''"}},
     "y":{"field":"v","type":"quantitative","scale":{"domain":[-30,0],"nice":false,"zero":false},"axis":{"title":"Reflection Coefficient (dB)","zindex":0,"titleFontSize":13,"grid":true,"ticks":true,"labelOverlap":false,"gridColor":"#b0b0b0","values":[0,-5,-6,-10,-15,-20,-25,-30],"labelExpr":"datum.value == 0 ? '0' : '-' + format(-datum.value, 'd')"}},
     "color":{"field":"s","type":"nominal","scale":{"domain":["|S22| simulation","|S11| simulation"],"range":["#d43a35","#2f69a8"]},"legend":null}}},
   {"data":{"name":"a"},"mark":{"type":"point","size":30,"strokeWidth":1,"opacity":1,"clip":true},
    "encoding":{
     "x":{"field":"f","type":"quantitative","scale":{"domain":[3.2,3.8],"nice":false,"zero":false},"axis":{"title":"Frequency (GHz)","zindex":0,"grid":true,"ticks":true,"labelOverlap":false,"gridColor":"#b0b0b0","values":[3.2,3.25,3.3,3.35,3.4,3.45,3.5,3.55,3.6,3.65,3.7,3.75,3.8],"labelExpr":"round(datum.value*100) % 10 == 0 ? format(datum.value, '.1f') : ''"}},
     "y":{"field":"v","type":"quantitative","scale":{"domain":[-30,0],"nice":false,"zero":false},"axis":{"title":"Reflection Coefficient (dB)","zindex":0,"titleFontSize":13,"grid":true,"ticks":true,"labelOverlap":false,"gridColor":"#b0b0b0","values":[0,-5,-6,-10,-15,-20,-25,-30],"labelExpr":"datum.value == 0 ? '0' : '-' + format(-datum.value, 'd')"}},
     "shape":{"field":"s","type":"nominal","scale":{"domain":["|S11| simulation","|S22| simulation"],"range":["square","circle"]},"legend":{"title":null,"orient":"none","legendX":9,"legendY":151,"rowPadding":4,"zindex":2}},
     "stroke":{"field":"s","type":"nominal","scale":{"domain":["|S11| simulation","|S22| simulation"],"range":["#2f69a8","#d43a35"]},"legend":{"title":null,"orient":"none","legendX":9,"legendY":151,"rowPadding":4,"zindex":2}},
     "fill":{"field":"s","type":"nominal","scale":{"domain":["|S11| simulation","|S22| simulation"],"range":["#2f69a8","#d43a35"]},"legend":{"title":null,"orient":"none","legendX":9,"legendY":151,"rowPadding":4,"zindex":2}}}}
  ]},
 {"width":273,"height":199,
  "title":{"text":"(b)","orient":"bottom","frame":"bounds","anchor":"middle","offset":6},
  "layer":[
   {"data":{"values":[{"f":3.4,"f2":3.6}]},"mark":{"type":"rect"},"encoding":{"x":{"field":"f","type":"quantitative","scale":{"domain":[3.2,3.8],"nice":false,"zero":false},"axis":{"title":"Frequency (GHz)","zindex":0,"grid":true,"ticks":true,"labelOverlap":false,"gridColor":"#b0b0b0","values":[3.2,3.25,3.3,3.35,3.4,3.45,3.5,3.55,3.6,3.65,3.7,3.75,3.8],"labelExpr":"round(datum.value*100) % 10 == 0 ? format(datum.value, '.1f') : ''"}},"x2":{"field":"f2"}}},
   {"data":{"values":[{"v":-6},{"v":-10}]},"mark":{"type":"rule","strokeDash":[5,3],"strokeWidth":1.6,"color":"#222"},"encoding":{"y":{"field":"v","type":"quantitative","scale":{"domain":[-30,0],"nice":false,"zero":false},"axis":{"title":"Reflection Coefficient (dB)","zindex":0,"titleFontSize":13,"grid":true,"ticks":true,"labelOverlap":false,"gridColor":"#b0b0b0","values":[0,-5,-6,-10,-15,-20,-25,-30],"labelExpr":"datum.value == 0 ? '0' : '-' + format(-datum.value, 'd')"}}}},
   {"data":{"name":"b"},"mark":{"type":"line","interpolate":"monotone","strokeWidth":1.2,"clip":true},
    "encoding":{
     "x":{"field":"f","type":"quantitative","scale":{"domain":[3.2,3.8],"nice":false,"zero":false},"axis":{"title":"Frequency (GHz)","zindex":0,"grid":true,"ticks":true,"labelOverlap":false,"gridColor":"#b0b0b0","values":[3.2,3.25,3.3,3.35,3.4,3.45,3.5,3.55,3.6,3.65,3.7,3.75,3.8],"labelExpr":"round(datum.value*100) % 10 == 0 ? format(datum.value, '.1f') : ''"}},
     "y":{"field":"v","type":"quantitative","scale":{"domain":[-30,0],"nice":false,"zero":false},"axis":{"title":"Reflection Coefficient (dB)","zindex":0,"titleFontSize":13,"grid":true,"ticks":true,"labelOverlap":false,"gridColor":"#b0b0b0","values":[0,-5,-6,-10,-15,-20,-25,-30],"labelExpr":"datum.value == 0 ? '0' : '-' + format(-datum.value, 'd')"}},
     "color":{"field":"s","type":"nominal","scale":{"domain":["|S22| measurement","|S11| measurement"],"range":["#d43a35","#2f69a8"]},"legend":null}}},
   {"data":{"name":"b"},"mark":{"type":"point","size":30,"strokeWidth":1,"opacity":1,"clip":true},
    "encoding":{
     "x":{"field":"f","type":"quantitative","scale":{"domain":[3.2,3.8],"nice":false,"zero":false},"axis":{"title":"Frequency (GHz)","zindex":0,"grid":true,"ticks":true,"labelOverlap":false,"gridColor":"#b0b0b0","values":[3.2,3.25,3.3,3.35,3.4,3.45,3.5,3.55,3.6,3.65,3.7,3.75,3.8],"labelExpr":"round(datum.value*100) % 10 == 0 ? format(datum.value, '.1f') : ''"}},
     "y":{"field":"v","type":"quantitative","scale":{"domain":[-30,0],"nice":false,"zero":false},"axis":{"title":"Reflection Coefficient (dB)","zindex":0,"titleFontSize":13,"grid":true,"ticks":true,"labelOverlap":false,"gridColor":"#b0b0b0","values":[0,-5,-6,-10,-15,-20,-25,-30],"labelExpr":"datum.value == 0 ? '0' : '-' + format(-datum.value, 'd')"}},
     "shape":{"field":"s","type":"nominal","scale":{"domain":["|S11| measurement","|S22| measurement"],"range":["square","circle"]},"legend":{"title":null,"orient":"none","legendX":10,"legendY":153,"rowPadding":4,"zindex":2}},
     "stroke":{"field":"s","type":"nominal","scale":{"domain":["|S11| measurement","|S22| measurement"],"range":["#2f69a8","#d43a35"]},"legend":{"title":null,"orient":"none","legendX":10,"legendY":153,"rowPadding":4,"zindex":2}},
     "fill":{"field":"s","type":"nominal","scale":{"domain":["|S11| measurement","|S22| measurement"],"range":["#2f69a8","#d43a35"]},"legend":{"title":null,"orient":"none","legendX":10,"legendY":153,"rowPadding":4,"zindex":2}}}}
  ]}
 ],"spacing":-10,"resolve":{"scale":{"color":"independent","shape":"independent","fill":"independent","stroke":"independent"}}},
{"hconcat":[
 {"width":266,"height":195,
  "title":{"text":"(c)","orient":"bottom","frame":"bounds","anchor":"middle","offset":10},
  "layer":[
   {"data":{"values":[{"f":3.4,"f2":3.6}]},"mark":{"type":"rect"},"encoding":{"x":{"field":"f","type":"quantitative","scale":{"domain":[3.2,3.8],"nice":false,"zero":false},"axis":{"title":"Frequency (GHz)","zindex":0,"titleFontWeight":"bold","grid":true,"ticks":true,"labelOverlap":false,"gridColor":"#b0b0b0","values":[3.2,3.25,3.3,3.35,3.4,3.45,3.5,3.55,3.6,3.65,3.7,3.75,3.8],"labelExpr":"round(datum.value*100) % 10 == 0 ? format(datum.value, '.1f') : ''"}},"x2":{"field":"f2"}}},
   {"data":{"name":"c"},"mark":{"type":"line","interpolate":"monotone","strokeWidth":1.2,"clip":true},
    "encoding":{
     "x":{"field":"f","type":"quantitative","scale":{"domain":[3.2,3.8],"nice":false,"zero":false},"axis":{"title":"Frequency (GHz)","zindex":0,"titleFontWeight":"bold","grid":true,"ticks":true,"labelOverlap":false,"gridColor":"#b0b0b0","values":[3.2,3.25,3.3,3.35,3.4,3.45,3.5,3.55,3.6,3.65,3.7,3.75,3.8],"labelExpr":"round(datum.value*100) % 10 == 0 ? format(datum.value, '.1f') : ''"}},
     "y":{"field":"v","type":"quantitative","scale":{"domain":[-50,-10],"nice":false,"zero":false},"axis":{"title":"Transmission Coefficient (dB)","zindex":0,"titleFontWeight":"bold","titleFontSize":13,"labelFontSize":12,"grid":true,"ticks":true,"labelOverlap":false,"gridColor":"#b0b0b0","values":[-10,-15,-20,-25,-30,-35,-40,-45,-50],"labelExpr":"'-' + format(-datum.value, 'd')"}},
     "color":{"field":"s","type":"nominal","scale":{"domain":["|S17|","|S16|","|S14|","|S13|","|S12|"],"range":["#d43a35","#111111","#2f69a8","#d43a35","#111111"]},"legend":null}}},
   {"data":{"name":"c"},"mark":{"type":"point","size":26,"strokeWidth":1,"opacity":1,"clip":true},
    "encoding":{
     "x":{"field":"f","type":"quantitative","scale":{"domain":[3.2,3.8],"nice":false,"zero":false},"axis":{"title":"Frequency (GHz)","zindex":0,"titleFontWeight":"bold","grid":true,"ticks":true,"labelOverlap":false,"gridColor":"#b0b0b0","values":[3.2,3.25,3.3,3.35,3.4,3.45,3.5,3.55,3.6,3.65,3.7,3.75,3.8],"labelExpr":"round(datum.value*100) % 10 == 0 ? format(datum.value, '.1f') : ''"}},
     "y":{"field":"v","type":"quantitative","scale":{"domain":[-50,-10],"nice":false,"zero":false},"axis":{"title":"Transmission Coefficient (dB)","zindex":0,"titleFontWeight":"bold","titleFontSize":13,"labelFontSize":12,"grid":true,"ticks":true,"labelOverlap":false,"gridColor":"#b0b0b0","values":[-10,-15,-20,-25,-30,-35,-40,-45,-50],"labelExpr":"'-' + format(-datum.value, 'd')"}},
     "shape":{"field":"s","type":"nominal","scale":{"domain":["|S12|","|S14|","|S17|","|S13|","|S16|"],"range":["square","triangle-up","circle","circle","square"]},"legend":{"title":null,"orient":"none","legendX":4,"legendY":148,"columns":2,"zindex":2}},
     "stroke":{"field":"s","type":"nominal","scale":{"domain":["|S12|","|S14|","|S17|","|S13|","|S16|"],"range":["#111111","#2f69a8","#d43a35","#d43a35","#111111"]},"legend":{"title":null,"orient":"none","legendX":4,"legendY":148,"columns":2,"zindex":2}},
     "fill":{"field":"s","type":"nominal","scale":{"domain":["|S12|","|S14|","|S17|","|S13|","|S16|"],"range":["#111111","#2f69a8","#ffffff","#d43a35","#ffffff"]},"legend":{"title":null,"orient":"none","legendX":4,"legendY":148,"columns":2,"zindex":2}}}}
  ]},
 {"width":267,"height":195,
  "title":{"text":"(d)","orient":"bottom","frame":"bounds","anchor":"middle","offset":10},
  "layer":[
   {"data":{"values":[{"f":3.4,"f2":3.6}]},"mark":{"type":"rect"},"encoding":{"x":{"field":"f","type":"quantitative","scale":{"domain":[3.2,3.8],"nice":false,"zero":false},"axis":{"title":"Frequency (GHz)","zindex":0,"titleFontWeight":"bold","grid":true,"ticks":true,"labelOverlap":false,"gridColor":"#b0b0b0","values":[3.2,3.25,3.3,3.35,3.4,3.45,3.5,3.55,3.6,3.65,3.7,3.75,3.8],"labelExpr":"round(datum.value*100) % 10 == 0 ? format(datum.value, '.1f') : ''"}},"x2":{"field":"f2"}}},
   {"data":{"name":"d"},"mark":{"type":"line","interpolate":"monotone","strokeWidth":1.2,"clip":true},
    "encoding":{
     "x":{"field":"f","type":"quantitative","scale":{"domain":[3.2,3.8],"nice":false,"zero":false},"axis":{"title":"Frequency (GHz)","zindex":0,"titleFontWeight":"bold","grid":true,"ticks":true,"labelOverlap":false,"gridColor":"#b0b0b0","values":[3.2,3.25,3.3,3.35,3.4,3.45,3.5,3.55,3.6,3.65,3.7,3.75,3.8],"labelExpr":"round(datum.value*100) % 10 == 0 ? format(datum.value, '.1f') : ''"}},
     "y":{"field":"v","type":"quantitative","scale":{"domain":[-30,-10],"nice":false,"zero":false},"axis":{"title":"Transmission Coefficient (dB)","zindex":0,"titleFontWeight":"bold","titleFontSize":13,"labelFontSize":12,"grid":true,"ticks":true,"labelOverlap":false,"gridColor":"#b0b0b0","values":[-10,-12.5,-15,-17.5,-20,-22.5,-25,-27.5,-30],"labelExpr":"datum.value % 5 == 0 ? '-' + format(-datum.value, 'd') : ''"}},
     "color":{"field":"s","type":"nominal","scale":{"domain":["|S23|","|S27|","|S26|","|S18|","|S15|"],"range":["#111111","#2f69a8","#d43a35","#d43a35","#111111"]},"legend":null}}},
   {"data":{"name":"d"},"mark":{"type":"point","size":26,"strokeWidth":1,"opacity":1,"clip":true},
    "encoding":{
     "x":{"field":"f","type":"quantitative","scale":{"domain":[3.2,3.8],"nice":false,"zero":false},"axis":{"title":"Frequency (GHz)","zindex":0,"titleFontWeight":"bold","grid":true,"ticks":true,"labelOverlap":false,"gridColor":"#b0b0b0","values":[3.2,3.25,3.3,3.35,3.4,3.45,3.5,3.55,3.6,3.65,3.7,3.75,3.8],"labelExpr":"round(datum.value*100) % 10 == 0 ? format(datum.value, '.1f') : ''"}},
     "y":{"field":"v","type":"quantitative","scale":{"domain":[-30,-10],"nice":false,"zero":false},"axis":{"title":"Transmission Coefficient (dB)","zindex":0,"titleFontWeight":"bold","titleFontSize":13,"labelFontSize":12,"grid":true,"ticks":true,"labelOverlap":false,"gridColor":"#b0b0b0","values":[-10,-12.5,-15,-17.5,-20,-22.5,-25,-27.5,-30],"labelExpr":"datum.value % 5 == 0 ? '-' + format(-datum.value, 'd') : ''"}},
     "shape":{"field":"s","type":"nominal","scale":{"domain":["|S15|","|S27|","|S18|","|S23|","|S26|"],"range":["triangle-down","circle","square","square","triangle-down"]},"legend":{"title":null,"orient":"none","legendX":77,"legendY":6,"columns":3,"zindex":2}},
     "stroke":{"field":"s","type":"nominal","scale":{"domain":["|S15|","|S27|","|S18|","|S23|","|S26|"],"range":["#111111","#2f69a8","#d43a35","#111111","#d43a35"]},"legend":{"title":null,"orient":"none","legendX":77,"legendY":6,"columns":3,"zindex":2}},
     "fill":{"field":"s","type":"nominal","scale":{"domain":["|S15|","|S27|","|S18|","|S23|","|S26|"],"range":["#111111","#2f69a8","#d43a35","#ffffff","#ffffff"]},"legend":{"title":null,"orient":"none","legendX":77,"legendY":6,"columns":3,"zindex":2}}}}
  ]}
 ],"spacing":0,"resolve":{"scale":{"color":"independent","shape":"independent","fill":"independent","stroke":"independent"}}},
{"hconcat":[
 {"width":266,"height":194,
  "title":{"text":"(e)","orient":"bottom","frame":"bounds","anchor":"middle","offset":9},
  "layer":[
   {"data":{"values":[{"f":3.4,"f2":3.6}]},"mark":{"type":"rect"},"encoding":{"x":{"field":"f","type":"quantitative","scale":{"domain":[3.2,3.8],"nice":false,"zero":false},"axis":{"title":"Frequency (GHz)","zindex":0,"titleFontWeight":"bold","grid":true,"ticks":true,"labelOverlap":false,"gridColor":"#b0b0b0","values":[3.2,3.25,3.3,3.35,3.4,3.45,3.5,3.55,3.6,3.65,3.7,3.75,3.8],"labelExpr":"round(datum.value*100) % 10 == 0 ? format(datum.value, '.1f') : ''"}},"x2":{"field":"f2"}}},
   {"data":{"name":"e"},"mark":{"type":"line","strokeWidth":1.2,"clip":true},
    "encoding":{
     "x":{"field":"f","type":"quantitative","scale":{"domain":[3.2,3.8],"nice":false,"zero":false},"axis":{"title":"Frequency (GHz)","zindex":0,"titleFontWeight":"bold","grid":true,"ticks":true,"labelOverlap":false,"gridColor":"#b0b0b0","values":[3.2,3.25,3.3,3.35,3.4,3.45,3.5,3.55,3.6,3.65,3.7,3.75,3.8],"labelExpr":"round(datum.value*100) % 10 == 0 ? format(datum.value, '.1f') : ''"}},
     "y":{"field":"v","type":"quantitative","scale":{"domain":[-50,-10],"nice":false,"zero":false},"axis":{"title":"Transmission Coefficient (dB)","zindex":0,"titleFontWeight":"bold","titleFontSize":13,"labelFontSize":12,"grid":true,"ticks":true,"labelOverlap":false,"gridColor":"#b0b0b0","values":[-10,-15,-20,-25,-30,-35,-40,-45,-50],"labelExpr":"'-' + format(-datum.value, 'd')"}},
     "color":{"field":"s","type":"nominal","scale":{"domain":["|S17|","|S16|","|S14|","|S13|","|S12|"],"range":["#d43a35","#111111","#2f69a8","#d43a35","#111111"]},"legend":null}}},
   {"data":{"name":"e"},"mark":{"type":"point","size":20,"strokeWidth":1,"opacity":1,"clip":true},
    "encoding":{
     "x":{"field":"f","type":"quantitative","scale":{"domain":[3.2,3.8],"nice":false,"zero":false},"axis":{"title":"Frequency (GHz)","zindex":0,"titleFontWeight":"bold","grid":true,"ticks":true,"labelOverlap":false,"gridColor":"#b0b0b0","values":[3.2,3.25,3.3,3.35,3.4,3.45,3.5,3.55,3.6,3.65,3.7,3.75,3.8],"labelExpr":"round(datum.value*100) % 10 == 0 ? format(datum.value, '.1f') : ''"}},
     "y":{"field":"v","type":"quantitative","scale":{"domain":[-50,-10],"nice":false,"zero":false},"axis":{"title":"Transmission Coefficient (dB)","zindex":0,"titleFontWeight":"bold","titleFontSize":13,"labelFontSize":12,"grid":true,"ticks":true,"labelOverlap":false,"gridColor":"#b0b0b0","values":[-10,-15,-20,-25,-30,-35,-40,-45,-50],"labelExpr":"'-' + format(-datum.value, 'd')"}},
     "shape":{"field":"s","type":"nominal","scale":{"domain":["|S12|","|S14|","|S17|","|S13|","|S16|"],"range":["square","triangle-up","circle","circle","square"]},"legend":{"title":null,"orient":"none","legendX":3,"legendY":148,"columns":2,"zindex":2}},
     "stroke":{"field":"s","type":"nominal","scale":{"domain":["|S12|","|S14|","|S17|","|S13|","|S16|"],"range":["#111111","#2f69a8","#d43a35","#d43a35","#111111"]},"legend":{"title":null,"orient":"none","legendX":3,"legendY":148,"columns":2,"zindex":2}},
     "fill":{"field":"s","type":"nominal","scale":{"domain":["|S12|","|S14|","|S17|","|S13|","|S16|"],"range":["#111111","#2f69a8","#ffffff","#d43a35","#ffffff"]},"legend":{"title":null,"orient":"none","legendX":3,"legendY":148,"columns":2,"zindex":2}}}}
  ]},
 {"width":267,"height":195,
  "title":{"text":"(f)","orient":"bottom","frame":"bounds","anchor":"middle","offset":9},
  "layer":[
   {"data":{"values":[{"f":3.4,"f2":3.6}]},"mark":{"type":"rect"},"encoding":{"x":{"field":"f","type":"quantitative","scale":{"domain":[3.2,3.8],"nice":false,"zero":false},"axis":{"title":"Frequency (GHz)","zindex":0,"titleFontWeight":"bold","grid":true,"ticks":true,"labelOverlap":false,"gridColor":"#b0b0b0","values":[3.2,3.25,3.3,3.35,3.4,3.45,3.5,3.55,3.6,3.65,3.7,3.75,3.8],"labelExpr":"round(datum.value*100) % 10 == 0 ? format(datum.value, '.1f') : ''"}},"x2":{"field":"f2"}}},
   {"data":{"name":"f"},"mark":{"type":"line","strokeWidth":1.2,"clip":true},
    "encoding":{
     "x":{"field":"f","type":"quantitative","scale":{"domain":[3.2,3.8],"nice":false,"zero":false},"axis":{"title":"Frequency (GHz)","zindex":0,"titleFontWeight":"bold","grid":true,"ticks":true,"labelOverlap":false,"gridColor":"#b0b0b0","values":[3.2,3.25,3.3,3.35,3.4,3.45,3.5,3.55,3.6,3.65,3.7,3.75,3.8],"labelExpr":"round(datum.value*100) % 10 == 0 ? format(datum.value, '.1f') : ''"}},
     "y":{"field":"v","type":"quantitative","scale":{"domain":[-30,-10],"nice":false,"zero":false},"axis":{"title":"Transmission Coefficient (dB)","zindex":0,"titleFontWeight":"bold","titleFontSize":13,"labelFontSize":12,"grid":true,"ticks":true,"labelOverlap":false,"gridColor":"#b0b0b0","values":[-10,-12.5,-15,-17.5,-20,-22.5,-25,-27.5,-30],"labelExpr":"datum.value % 5 == 0 ? '-' + format(-datum.value, 'd') : ''"}},
     "color":{"field":"s","type":"nominal","scale":{"domain":["|S23|","|S27|","|S26|","|S18|","|S15|"],"range":["#111111","#2f69a8","#d43a35","#d43a35","#111111"]},"legend":null}}},
   {"data":{"name":"f"},"mark":{"type":"point","size":20,"strokeWidth":1,"opacity":1,"clip":true},
    "encoding":{
     "x":{"field":"f","type":"quantitative","scale":{"domain":[3.2,3.8],"nice":false,"zero":false},"axis":{"title":"Frequency (GHz)","zindex":0,"titleFontWeight":"bold","grid":true,"ticks":true,"labelOverlap":false,"gridColor":"#b0b0b0","values":[3.2,3.25,3.3,3.35,3.4,3.45,3.5,3.55,3.6,3.65,3.7,3.75,3.8],"labelExpr":"round(datum.value*100) % 10 == 0 ? format(datum.value, '.1f') : ''"}},
     "y":{"field":"v","type":"quantitative","scale":{"domain":[-30,-10],"nice":false,"zero":false},"axis":{"title":"Transmission Coefficient (dB)","zindex":0,"titleFontWeight":"bold","titleFontSize":13,"labelFontSize":12,"grid":true,"ticks":true,"labelOverlap":false,"gridColor":"#b0b0b0","values":[-10,-12.5,-15,-17.5,-20,-22.5,-25,-27.5,-30],"labelExpr":"datum.value % 5 == 0 ? '-' + format(-datum.value, 'd') : ''"}},
     "shape":{"field":"s","type":"nominal","scale":{"domain":["|S15|","|S27|","|S18|","|S23|","|S26|"],"range":["triangle-down","circle","square","square","triangle-down"]},"legend":{"title":null,"orient":"none","legendX":79,"legendY":5,"columns":3,"zindex":2}},
     "stroke":{"field":"s","type":"nominal","scale":{"domain":["|S15|","|S27|","|S18|","|S23|","|S26|"],"range":["#111111","#2f69a8","#d43a35","#111111","#d43a35"]},"legend":{"title":null,"orient":"none","legendX":79,"legendY":5,"columns":3,"zindex":2}},
     "fill":{"field":"s","type":"nominal","scale":{"domain":["|S15|","|S27|","|S18|","|S23|","|S26|"],"range":["#111111","#2f69a8","#d43a35","#ffffff","#ffffff"]},"legend":{"title":null,"orient":"none","legendX":79,"legendY":5,"columns":3,"zindex":2}}}}
  ]}
 ],"spacing":0,"resolve":{"scale":{"color":"independent","shape":"independent","fill":"independent","stroke":"independent"}}}
]
}
